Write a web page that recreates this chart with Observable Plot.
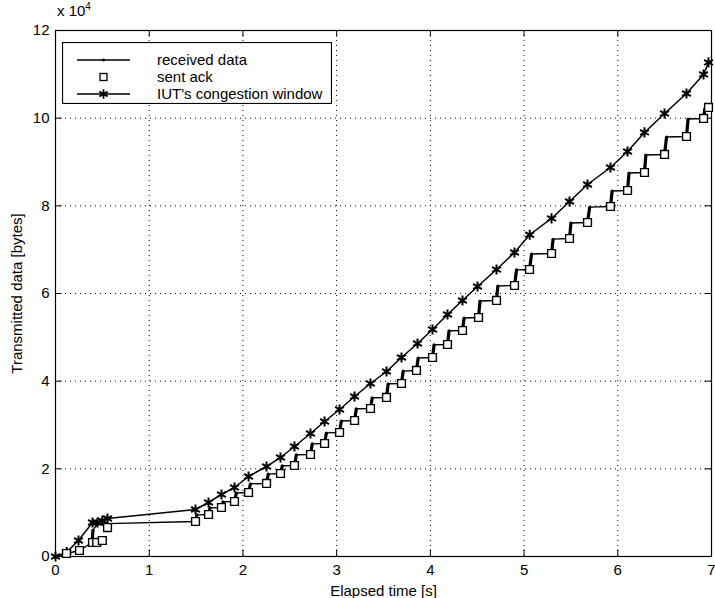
<!DOCTYPE html>
<html>
<head>
<meta charset="utf-8">
<script src="https://cdn.jsdelivr.net/npm/d3@7"></script>
<script src="https://cdn.jsdelivr.net/npm/@observablehq/plot@0.6"></script>
<style>
  body { margin: 0; background: white; }
  #wrap { position: relative; width: 715px; height: 598px; font-family: "Liberation Sans", Arial, sans-serif; }
  #exp { position: absolute; left: 57px; top: 1px; font-size: 15px; }
  #exp sup { font-size: 10px; }
  #legend { position: absolute; left: 62px; top: 42px; }
</style>
</head>
<body>
<div id="wrap">
  <div id="exp">x 10<sup>4</sup></div>
</div>
<script>
// x axis: elapsed time [s]; y values in units of 10^4 bytes
const xTicks = [0, 1, 2, 3, 4, 5, 6, 7];
const yTicks = [0, 2, 4, 6, 8, 10, 12];

// sent ack (squares)
const ackT = [0.117, 0.256, 0.395, 0.44, 0.50, 0.555,
  1.494, 1.633, 1.771, 1.910, 2.060, 2.252, 2.401, 2.550, 2.721, 2.871,
  3.031, 3.191, 3.361, 3.532, 3.692, 3.852, 4.023, 4.183, 4.343, 4.514,
  4.706, 4.898, 5.058, 5.293, 5.485, 5.677, 5.922, 6.104, 6.285, 6.499,
  6.733, 6.915, 6.968];
const ackY = [0.068, 0.137, 0.319, 0.32, 0.365, 0.66,
  0.799, 0.958, 1.118, 1.255, 1.460, 1.666, 1.894, 2.076, 2.327, 2.578,
  2.829, 3.103, 3.377, 3.628, 3.947, 4.244, 4.540, 4.837, 5.156, 5.453,
  5.841, 6.183, 6.548, 6.913, 7.255, 7.620, 7.985, 8.350, 8.761, 9.172,
  9.582, 9.993, 10.244];

// IUT's congestion window (stars)
const cwndT = [0, 0.12, 0.245, 0.395, 0.448, 0.50, 0.555,
  1.494, 1.633, 1.771, 1.910, 2.060, 2.252, 2.401, 2.550, 2.721, 2.871,
  3.031, 3.191, 3.361, 3.532, 3.692, 3.863, 4.023, 4.183, 4.343, 4.503,
  4.706, 4.898, 5.06, 5.293, 5.485, 5.677, 5.922, 6.104, 6.285, 6.499,
  6.733, 6.915, 6.968];
const cwndY = [0, 0.10, 0.365, 0.776, 0.776, 0.82, 0.867,
  1.072, 1.232, 1.415, 1.574, 1.825, 2.053, 2.259, 2.510, 2.806, 3.080,
  3.354, 3.650, 3.947, 4.221, 4.540, 4.860, 5.179, 5.521, 5.841, 6.160,
  6.548, 6.936, 7.34, 7.712, 8.099, 8.487, 8.875, 9.240, 9.674, 10.107,
  10.563, 10.997, 11.271];

// received data (line with small dots)
const recvT = [0, 0.117, 0.256, 0.39, 0.40, 0.44, 0.50, 0.555,
  1.494, 1.51, 1.633, 1.65, 1.771, 1.79, 1.910, 1.93, 2.060, 2.08,
  2.252, 2.27, 2.401, 2.42, 2.550, 2.57, 2.721, 2.74, 2.871, 2.89,
  3.031, 3.05, 3.191, 3.21, 3.361, 3.38, 3.532, 3.55, 3.692, 3.71,
  3.852, 3.87, 4.023, 4.04, 4.183, 4.20, 4.343, 4.36, 4.514, 4.53,
  4.706, 4.72, 4.898, 4.92, 5.058, 5.08, 5.293, 5.31, 5.485, 5.50,
  5.677, 5.70, 5.922, 5.94, 6.104, 6.12, 6.285, 6.30, 6.499, 6.52,
  6.733, 6.75, 6.915, 6.93, 6.968];
const recvY = [0, 0.068, 0.137, 0.32, 0.60, 0.72, 0.74, 0.75,
  0.799, 0.95, 0.958, 1.11, 1.118, 1.25, 1.255, 1.45, 1.460, 1.66,
  1.666, 1.88, 1.894, 2.07, 2.076, 2.32, 2.327, 2.57, 2.578, 2.82,
  2.829, 3.09, 3.103, 3.37, 3.377, 3.62, 3.628, 3.94, 3.947, 4.23,
  4.244, 4.53, 4.540, 4.83, 4.837, 5.15, 5.156, 5.44, 5.453, 5.83,
  5.841, 6.17, 6.183, 6.54, 6.548, 6.90, 6.913, 7.24, 7.255, 7.61,
  7.620, 7.97, 7.985, 8.34, 8.350, 8.75, 8.761, 9.16, 9.172, 9.57,
  9.582, 9.98, 9.993, 10.22, 10.244];

const acks = ackT.map((t, i) => ({t, y: ackY[i]}));
const cwnd = cwndT.map((t, i) => ({t, y: cwndY[i]}));
const recv = recvT.map((t, i) => ({t, y: recvY[i]}));
// steep segments of received data (bursts) drawn thicker
const bursts = [];
for (let i = 0; i < recv.length - 1; i++) {
  const a = recv[i], b = recv[i + 1];
  if ((b.y - a.y) / (b.t - a.t) > 5) bursts.push({t1: a.t, y1: a.y, t2: b.t, y2: b.y});
}

const grid = {stroke: "black", strokeOpacity: 1, strokeWidth: 1, strokeDasharray: "1,4"};

const chart = Plot.plot({
  width: 715, height: 598,
  marginLeft: 55, marginRight: 4, marginTop: 30, marginBottom: 42,
  x: {domain: [0, 7]},
  y: {domain: [0, 12]},
  style: {fontFamily: "'Liberation Sans', Arial, sans-serif", fontSize: "15px", color: "black", background: "white"},
  marks: [
    Plot.gridX(xTicks, grid),
    Plot.gridY(yTicks, grid),
    Plot.frame({stroke: "black", strokeWidth: 1.2}),
    Plot.ruleX(xTicks, {x: d => d, y1: 0, y2: 0.15, stroke: "black"}),
    Plot.ruleX(xTicks, {x: d => d, y1: 11.85, y2: 12, stroke: "black"}),
    Plot.ruleY(yTicks, {y: d => d, x1: 0, x2: 0.07, stroke: "black"}),
    Plot.ruleY(yTicks, {y: d => d, x1: 6.93, x2: 7, stroke: "black"}),
    Plot.axisX(xTicks, {tickSize: 0, tickPadding: 8, fontSize: 15, label: "Elapsed time [s]", labelAnchor: "center", labelOffset: 39, labelArrow: "none"}),
    Plot.axisY(yTicks, {tickSize: 0, tickPadding: 6, fontSize: 15, tickFormat: d => String(d), label: "Transmitted data [bytes]", labelAnchor: "center", labelOffset: 44, labelArrow: "none"}),
    Plot.line(recv, {x: "t", y: "y", stroke: "black", strokeWidth: 1.4}),
    Plot.link(bursts, {x1: "t1", y1: "y1", x2: "t2", y2: "y2", stroke: "black", strokeWidth: 3.2}),
    Plot.dot(recv, {x: "t", y: "y", r: 1.5, fill: "black"}),
    Plot.line(cwnd, {x: "t", y: "y", stroke: "black", strokeWidth: 1.5}),
    Plot.dot(cwnd, {x: "t", y: "y", symbol: "asterisk", r: 4.8, stroke: "black", strokeWidth: 2}),
    Plot.dot(acks, {x: "t", y: "y", symbol: "square", r: 4.4, fill: "white", stroke: "black", strokeWidth: 1.4})
  ]
});
const wrap = document.getElementById("wrap");
wrap.insertBefore(chart, wrap.firstChild);

// legend box
const legendItems = ["received data", "sent ack", "IUT's congestion window"];
const lg = d3.select(wrap).append("svg").attr("id", "legend")
  .attr("width", 270).attr("height", 62)
  .style("font-family", "'Liberation Sans', Arial, sans-serif").style("font-size", "15px");
lg.append("rect").attr("x", 0.5).attr("y", 0.5).attr("width", 269).attr("height", 61)
  .attr("fill", "white").attr("stroke", "black").attr("stroke-width", 1.2);
legendItems.forEach((name, i) => {
  const cy = 18 + i * 17;
  const g = lg.append("g");
  if (i !== 1) g.append("line").attr("x1", 15).attr("x2", 68).attr("y1", cy).attr("y2", cy).attr("stroke", "black").attr("stroke-width", 1.4);
  if (i === 0) g.append("circle").attr("cx", 41.5).attr("cy", cy).attr("r", 1.5).attr("fill", "black");
  if (i === 1) g.append("rect").attr("x", 38).attr("y", cy - 3.5).attr("width", 7).attr("height", 7).attr("fill", "white").attr("stroke", "black").attr("stroke-width", 1.3);
  if (i === 2) g.append("path").attr("d", d3.symbol(d3.symbolAsterisk, Math.PI * 4.5 * 4.5)()).attr("transform", `translate(41.5,${cy})`).attr("stroke", "black").attr("stroke-width", 1.8).attr("fill", "none");
  lg.append("text").attr("x", 95).attr("y", cy).attr("dy", "0.35em").text(name);
});
</script>
</body>
</html>
